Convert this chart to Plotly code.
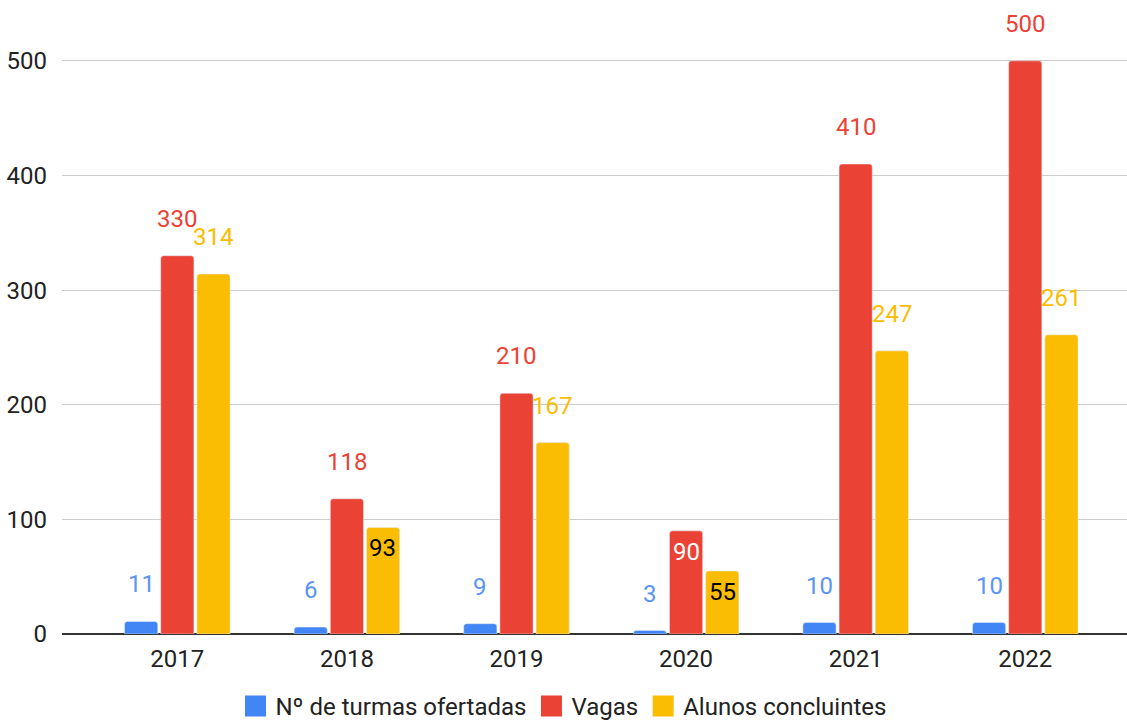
import plotly.graph_objects as go

years = ["2017", "2018", "2019", "2020", "2021", "2022"]
turmas = [11, 6, 9, 3, 10, 10]
vagas = [330, 118, 210, 90, 410, 500]
alunos = [314, 93, 167, 55, 247, 261]

series = [
    ("Nº de turmas ofertadas", turmas, "#4285F4", "#5A95F5"),
    ("Vagas", vagas, "#EA4335", "#EA4335"),
    ("Alunos concluintes", alunos, "#FBBC04", "#FBBC04"),
]
# labels drawn inside the bar top (series index, year)
inside = {(1, "2020"): "#FFFFFF", (2, "2018"): "#000000", (2, "2020"): "#000000"}

FONT = "Roboto"
FS = 24
fig = go.Figure()
annotations = []
for i, (name, vals, color, lblcolor) in enumerate(series):
    fig.add_trace(go.Bar(
        x=years, y=vals, name=name, marker=dict(color=color, cornerradius=3),
        showlegend=False, hoverinfo="x+y+name",
    ))
    fig.add_trace(go.Scatter(
        x=[None], y=[None], name=name, mode="markers",
        marker=dict(symbol="square", size=16, color=color,
                    line=dict(color=color, width=5)),
        showlegend=True,
    ))
    for j, (yr, v) in enumerate(zip(years, vals)):
        key = (i, yr)
        if key in inside:
            col, ys = inside[key], -21
        else:
            col, ys = lblcolor, 37
        annotations.append(dict(x=j, y=v, xref="x", yref="y", text=str(v),
                                showarrow=False, xshift=(i - 1) * 36, yshift=ys,
                                xanchor="center", yanchor="middle",
                                font=dict(family=FONT, size=FS, color=col)))

fig.update_layout(
    width=1127, height=720,
    barmode="group", bargap=0.36, bargroupgap=0.083,
    margin=dict(l=62, r=0, t=15, b=86),
    paper_bgcolor="white", plot_bgcolor="white",
    font=dict(family=FONT, size=FS, color="#222222"),
    xaxis=dict(type="category", range=[-0.68, 5.6], showgrid=False, ticks="",
               ticklabelstandoff=8,
               tickfont=dict(family=FONT, size=FS, color="#222222"), showline=False),
    yaxis=dict(range=[0, 540], tickvals=[0, 100, 200, 300, 400, 500], showgrid=True,
               gridcolor="#CCCCCC", gridwidth=1, zeroline=True, zerolinecolor="#333333",
               zerolinewidth=2, ticks="", ticklabelstandoff=14,
               tickfont=dict(family=FONT, size=FS, color="#222222")),
    legend=dict(orientation="h", xref="container", x=0.5, xanchor="center",
                yref="container", y=0.019, yanchor="middle",
                font=dict(family=FONT, size=FS, color="#222222"),
                traceorder="normal"),
    showlegend=True,
)
for a in annotations:
    fig.add_annotation(**a)

fig.write_html("out.html", config={"displayModeBar": False},
               post_script="document.body.style.margin='0';document.body.style.overflow='hidden';")
